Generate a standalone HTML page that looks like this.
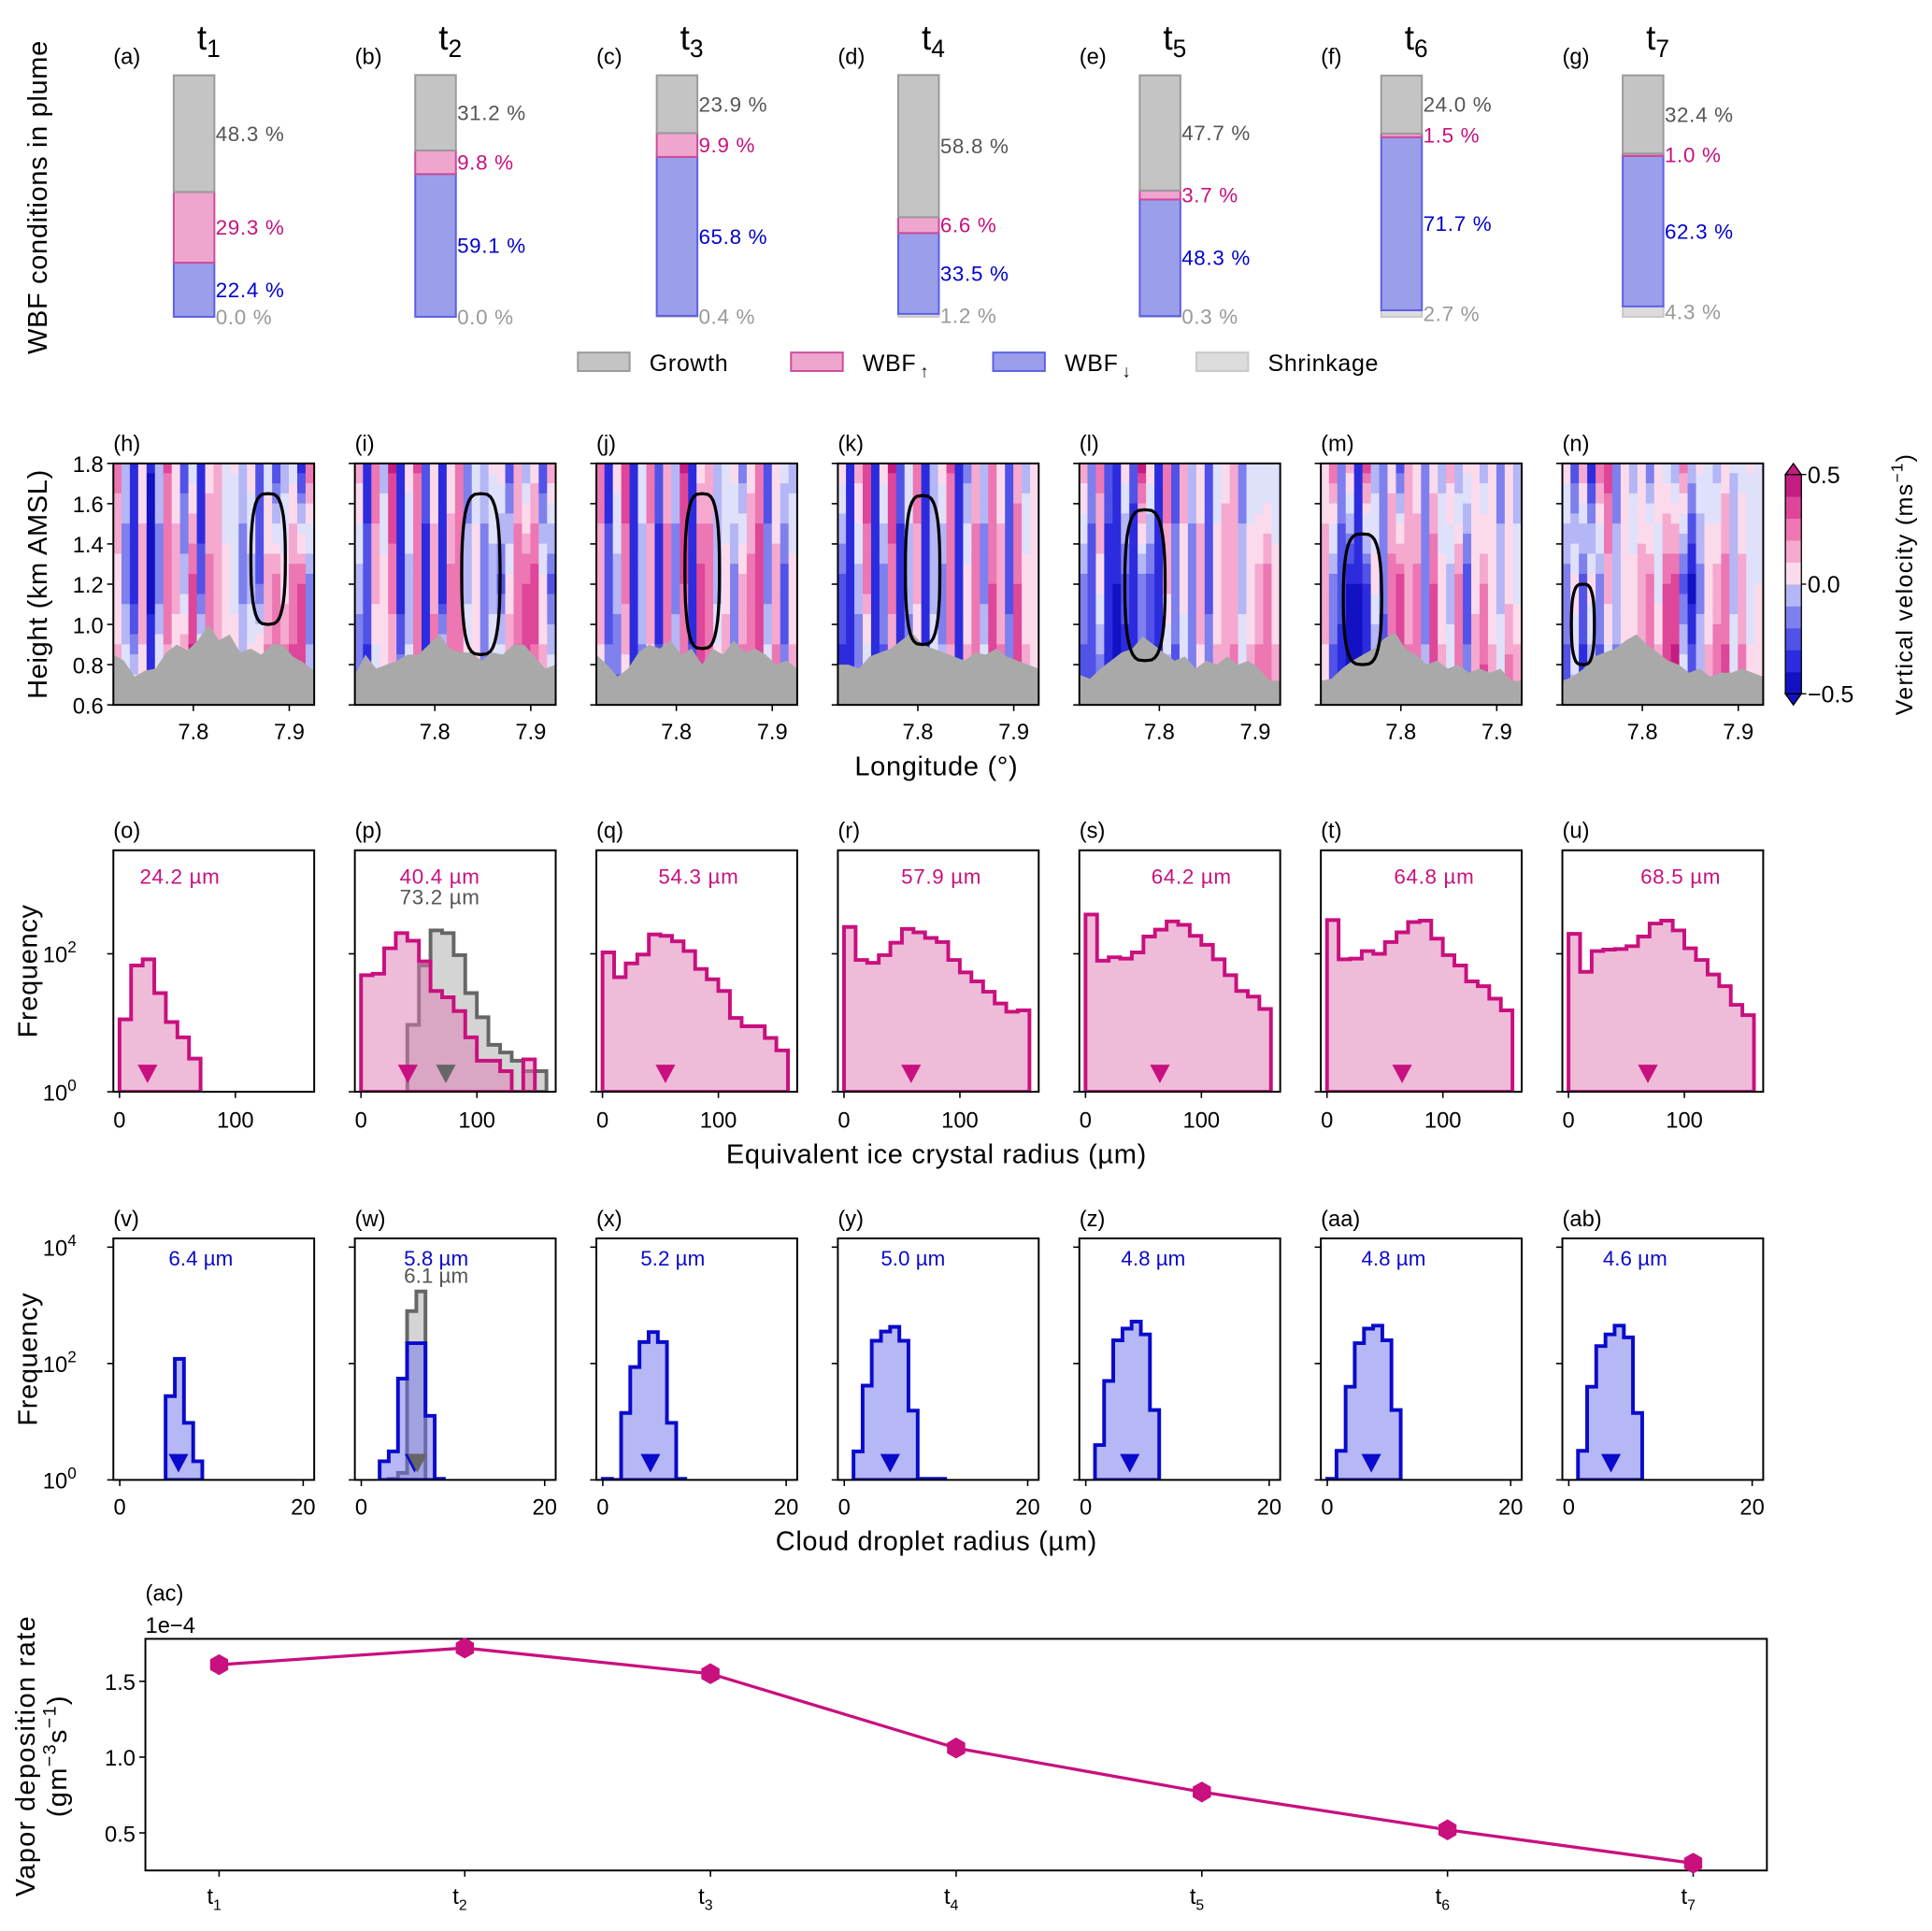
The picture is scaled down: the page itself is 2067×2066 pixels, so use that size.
<!DOCTYPE html>
<html><head><meta charset="utf-8"><title>WBF figure</title>
<style>
html,body{margin:0;padding:0;background:#fff;}
svg{display:block;font-family:"Liberation Sans","DejaVu Sans",sans-serif;}
</style></head>
<body>
<svg id="fig" width="2067" height="2066" viewBox="0 0 1568 1567" xmlns="http://www.w3.org/2000/svg"></svg>
<script>
// ---------------- DATA ----------------
const panelLabelsTop = ['(a)','(b)','(c)','(d)','(e)','(f)','(g)'];
const timeNames = ['1','2','3','4','5','6','7'];
const growthPct = [48.3,31.2,23.9,58.8,47.7,24.0,32.4];
const wbfUpPct = [29.3,9.8,9.9,6.6,3.7,1.5,1.0];
const wbfDownPct = [22.4,59.1,65.8,33.5,48.3,71.7,62.3];
const shrinkPct = [0.0,0.0,0.4,1.2,0.3,2.7,4.3];

const panelLabelsVel = ['(h)','(i)','(j)','(k)','(l)','(m)','(n)'];
const velTop = [
 [0.3,-0.1,-0.4,0.1,-0.45,-0.1,0.35,0.1,-0.3,0.0,-0.45,0.1,0.2,-0.05,0.05,-0.1,0.1,-0.3,0.0,-0.35,-0.1,0.0,-0.4,0.3],
 [0.2,-0.4,0.3,-0.1,0.45,-0.45,0.1,0.35,-0.3,0.1,-0.45,0.05,0.3,-0.2,0.0,-0.1,0.05,0.1,-0.3,0.2,-0.1,0.1,-0.35,0.2],
 [0.3,-0.4,0.1,0.4,-0.45,0.0,0.3,-0.3,0.2,-0.1,0.45,-0.45,0.1,0.2,-0.1,-0.05,0.1,-0.2,0.1,0.3,-0.3,0.05,0.0,-0.1],
 [0.1,-0.45,0.2,0.4,-0.4,0.1,0.45,-0.3,0.0,0.3,-0.45,-0.1,0.1,0.35,-0.4,-0.2,0.2,-0.1,0.3,0.1,-0.3,0.2,-0.1,0.05],
 [0.2,-0.2,0.3,-0.3,-0.4,0.1,-0.3,0.45,0.1,-0.4,0.3,-0.3,0.2,-0.1,0.1,-0.35,0.0,0.1,0.2,-0.2,0.0,-0.05,-0.05,-0.05],
 [0.1,0.3,-0.2,0.2,-0.45,0.35,-0.1,-0.2,0.1,-0.3,0.15,0.05,-0.2,0.1,-0.1,0.2,-0.15,0.05,0.1,-0.1,0.1,-0.2,0.05,-0.1],
 [0.1,-0.3,0.2,-0.4,0.3,0.4,-0.2,0.1,-0.1,0.05,-0.2,0.1,0.0,-0.1,0.3,-0.1,0.05,0.0,-0.1,0.1,-0.05,0.0,0.05,0.0]
];
const velMid = [
 [0.1,-0.2,-0.45,0.2,-0.5,-0.2,0.3,0.2,-0.1,0.4,-0.3,0.3,0.2,0.1,-0.05,-0.2,-0.1,-0.25,0.2,0.3,0.1,0.3,0.35,-0.2],
 [-0.1,-0.3,0.2,0.1,0.3,-0.45,-0.1,0.3,-0.4,0.2,-0.45,0.3,0.35,-0.1,0.1,-0.2,-0.1,-0.3,0.1,0.3,0.35,0.4,0.1,-0.3],
 [0.2,-0.3,-0.1,0.3,-0.45,-0.1,0.2,-0.4,0.3,-0.2,0.35,-0.4,0.4,0.3,-0.1,0.1,-0.2,0.2,0.3,0.4,-0.2,0.2,-0.3,0.1],
 [-0.3,-0.45,-0.1,0.3,-0.45,-0.2,0.3,-0.4,-0.1,0.2,-0.45,-0.1,-0.2,0.3,-0.45,0.1,0.3,-0.2,0.35,0.2,-0.3,0.35,0.1,0.05],
 [-0.2,-0.3,0.1,-0.4,-0.45,-0.3,-0.45,-0.2,-0.3,-0.35,0.2,-0.2,0.1,-0.2,0.2,-0.3,0.1,0.25,0.2,-0.1,0.1,0.2,0.3,0.1],
 [0.2,-0.2,-0.3,-0.45,-0.45,-0.35,0.1,-0.2,0.3,0.4,0.2,0.3,-0.2,0.35,0.1,-0.1,0.3,-0.3,0.1,0.25,0.1,-0.1,0.1,0.0],
 [-0.2,0.1,-0.3,0.1,-0.2,0.2,-0.1,0.1,0.1,0.2,0.3,0.0,0.35,0.4,-0.3,-0.5,-0.2,0.1,0.2,0.3,-0.1,0.2,0.0,0.05]
];
const velLow = [
 [0.2,0.1,0.05,0.1,-0.3,0.15,0.2,0.0,0.45,0.5,0.3,0.35,0.3,0.2,0.3,0.05,0.2,0.4,0.3,0.35,0.4,0.4,0.35,-0.1],
 [-0.3,-0.4,-0.1,0.1,0.1,-0.1,0.0,0.3,-0.45,0.4,0.3,0.35,0.3,0.2,0.1,-0.2,0.1,0.2,0.3,0.4,0.4,0.3,0.2,0.1],
 [0.1,-0.2,-0.3,0.05,-0.45,-0.2,0.1,-0.3,0.2,0.0,0.3,-0.3,0.4,0.3,0.2,0.3,-0.1,0.3,0.35,0.45,0.1,0.3,-0.2,0.2],
 [-0.4,-0.45,-0.3,-0.2,-0.45,-0.3,0.1,-0.4,-0.3,-0.1,-0.45,0.1,-0.1,0.2,-0.3,0.2,0.3,0.1,0.4,0.3,-0.1,0.4,0.2,0.1],
 [-0.3,-0.35,-0.3,-0.45,-0.5,-0.45,-0.45,-0.3,-0.4,-0.45,-0.2,-0.3,-0.1,-0.2,0.1,-0.1,0.2,0.1,0.3,0.1,0.2,0.3,0.35,0.2],
 [0.1,-0.3,-0.45,-0.5,-0.5,-0.45,-0.3,-0.4,0.3,0.45,0.3,0.35,-0.1,0.4,0.2,0.05,0.35,-0.2,0.3,0.4,0.2,0.1,0.35,0.3],
 [-0.3,-0.1,-0.4,-0.2,-0.3,-0.1,-0.2,0.0,0.1,0.2,0.35,0.3,0.45,0.5,0.1,-0.2,0.0,0.2,0.35,0.4,0.1,0.3,0.1,0.05]
];
const terrain = [
 [0.85,0.82,0.74,0.77,0.78,0.86,0.90,0.87,0.92,1.00,0.92,0.95,0.86,0.88,0.85,0.90,0.90,0.84,0.81,0.77],
 [0.75,0.85,0.78,0.80,0.82,0.85,0.85,0.90,0.95,0.88,0.86,0.86,0.82,0.86,0.85,0.90,0.90,0.84,0.78,0.80],
 [0.85,0.80,0.74,0.78,0.86,0.90,0.88,0.92,0.85,0.88,0.80,0.88,0.85,0.92,0.86,0.88,0.85,0.80,0.82,0.78],
 [0.80,0.80,0.78,0.84,0.86,0.88,0.92,0.96,0.90,0.88,0.86,0.84,0.82,0.86,0.85,0.88,0.84,0.82,0.80,0.78],
 [0.75,0.73,0.78,0.82,0.86,0.88,0.94,0.90,0.86,0.82,0.84,0.78,0.82,0.80,0.84,0.80,0.82,0.78,0.72,0.72],
 [0.72,0.73,0.78,0.82,0.85,0.88,0.93,0.96,0.88,0.85,0.80,0.82,0.78,0.80,0.76,0.78,0.76,0.78,0.72,0.72],
 [0.72,0.74,0.78,0.84,0.86,0.88,0.92,0.95,0.90,0.86,0.82,0.80,0.76,0.78,0.74,0.76,0.76,0.78,0.76,0.74]
];
const plumeLon = [7.878,7.848,7.827,7.805,7.785,7.76,7.738];
const plumeHalfWidth = [0.018,0.02,0.018,0.018,0.021,0.02,0.012];
const plumeTop = [1.65,1.65,1.65,1.64,1.57,1.45,1.2];
const plumeBottom = [1.0,0.85,0.88,0.9,0.82,0.8,0.8];

const panelLabelsIce = ['(o)','(p)','(q)','(r)','(s)','(t)','(u)'];
const iceMean = [24.2,40.4,54.3,57.9,64.2,64.8,68.5];
const iceMeanLabelX = [54,69,83,84,91,92,96];
const iceLog = [
 [1.05,1.83,1.92,1.43,1.01,0.79,0.48,null,null,null,null,null,null,null,null,null],
 [1.69,1.71,2.08,2.30,2.19,1.89,1.46,1.37,1.17,0.79,0.45,0.45,0.30,null,0.47,null],
 [2.02,1.66,1.86,1.99,2.28,2.26,2.18,2.04,1.78,1.63,1.46,1.07,0.95,0.95,0.78,0.60],
 [2.39,1.91,1.87,1.98,2.16,2.36,2.31,2.23,2.17,1.91,1.73,1.60,1.45,1.28,1.16,1.18],
 [2.57,1.90,1.95,1.93,2.02,2.25,2.35,2.47,2.42,2.26,2.13,1.92,1.69,1.46,1.38,1.20],
 [2.49,1.92,1.93,2.04,2.00,2.17,2.31,2.46,2.48,2.22,1.98,1.83,1.60,1.53,1.35,1.18],
 [2.29,1.74,2.04,2.06,2.07,2.11,2.25,2.44,2.48,2.34,2.08,1.91,1.70,1.53,1.26,1.11]
];
const iceRefLog = [null,null,null,null,0.97,1.83,2.34,2.30,1.98,1.43,1.08,0.68,0.57,0.45,0.30,0.30];
const iceRefMean = 73.2;

const panelLabelsDrop = ['(v)','(w)','(x)','(y)','(z)','(aa)','(ab)'];
const dropMean = [6.4,5.8,5.2,5.0,4.8,4.8,4.6];
const dropMeanLabelX = [71,66,62,61,60,59,59];
const dropLog = [
 [null,null,null,null,null,1.44,2.08,0.98,0.32,null,null,null],
 [null,null,0.32,0.49,1.74,2.35,2.35,1.10,0.02,null,null,null],
 [0.02,null,1.15,1.94,2.37,2.54,2.37,0.98,0.02,null,null,null],
 [null,0.49,1.62,2.39,2.55,2.63,2.39,1.19,0.02,0.02,0.02,null],
 [null,0.6,1.7,2.4,2.6,2.72,2.5,1.2,null,null,null,null],
 [0.02,0.5,1.6,2.35,2.6,2.65,2.4,1.2,null,null,null,null],
 [null,0.5,1.6,2.3,2.5,2.65,2.45,1.15,null,null,null,null]
];
const dropRefLog = [null,null,null,0.02,0.12,2.90,3.24,null,null,null,null,null];
const dropRefMean = 6.1;

const depTimes = ['1','2','3','4','5','6','7'];
const depRate = [1.61,1.72,1.55,1.06,0.77,0.52,0.30];
const depTicks = [0.5,1.0,1.5];

// ---------------- HELPERS ----------------
const NS='http://www.w3.org/2000/svg';
const svg=document.getElementById('fig');
function mk(tag,attrs,parent,text){const e=document.createElementNS(NS,tag);for(const k in attrs)e.setAttribute(k,attrs[k]);if(text!==undefined)e.textContent=text;(parent||svg).appendChild(e);return e;}
const PX=[92,288,484,680,876,1072,1268], PW=163;

// ---------------- ROW 1: stacked bars ----------------
const barTop=61, barBot=257, barH=barBot-barTop;
const ylab1=mk('text',{x:38,y:160,'font-size':22,'text-anchor':'middle',transform:'rotate(-90 38 160)','letter-spacing':'0.5'},svg,'WBF conditions in plume');


for(let i=0;i<7;i++){
  const bx=PX[i]+49, bw=33;
  const g=mk('g',{});
  
  
  const pl=mk('text',{x:PX[i],y:52,'font-size':18},g,panelLabelsTop[i]);
  
  
  const tt=mk('text',{x:PX[i]+68,y:40,'font-size':28},g);
  
  
  mk('tspan',{},tt,'t');mk('tspan',{dy:6,'font-size':20},tt,timeNames[i]);
  const segs=[[shrinkPct[i],'#dcdcdc','#c8c8c8','#999999'],[wbfDownPct[i],'#9b9ee9','#5c5fe6','#0000cc'],[wbfUpPct[i],'#eea6cf','#cc4c98','#c8107e'],[growthPct[i],'#c4c4c4','#9a9a9a','#555555']];
  const names=['shrinkage','wbf-down','wbf-up','growth'];
  let cum=0;
  segs.forEach((s,k)=>{
    const y1=barBot-cum*barH/100, y0=barBot-(cum+s[0])*barH/100;
    const r=mk('rect',{x:bx,y:y0,width:bw,height:Math.max(y1-y0,0),fill:s[1],stroke:s[2],'stroke-width':1.5},g);
    
    
    const t=mk('text',{x:bx+bw+1,y:(y0+y1)/2+6,'font-size':17,fill:s[3],'letter-spacing':'0.5'},g,s[0].toFixed(1)+' %');
    
    
    cum+=s[0];
  });
}
// legend
const legItems=[['Growth','#c4c4c4','#9a9a9a',469],['WBF','#eea6cf','#cc4c98',642,'↑'],['WBF','#9b9ee9','#5c5fe6',806,'↓'],['Shrinkage','#dcdcdc','#c8c8c8',971]];
const lg=mk('g',{});


legItems.forEach(it=>{
  const r=mk('rect',{x:it[3],y:286,width:42,height:15,fill:it[1],stroke:it[2],'stroke-width':1.5},lg);
  
  
  const t=mk('text',{x:it[3]+58,y:301,'font-size':19,'letter-spacing':'0.5'},lg,it[0]);
  
  
  if(it[4]) mk('tspan',{dy:5,'font-size':14,dx:3},t,it[4]);
});

// ---------------- ROW 2: velocity contours ----------------
const vTop=376,vBot=572;
const lonMin=7.7166,lonMax=7.926;
const lonX=(i,l)=>PX[i]+(l-lonMin)/(lonMax-lonMin)*PW;
const hY=h=>vBot-(h-0.6)/1.2*(vBot-vTop);
const velColors=['#1212c4','#2c2cde','#5152e8','#7e80ee','#b4b6f5','#dfe0fa','#fbdbeb','#f5a9cf','#ec77b3','#de4699','#c41c80'];
function velColor(v){let k=Math.floor((v+0.55)/0.1);k=Math.max(0,Math.min(10,k));return velColors[k];}
const defs=mk('defs',{});
const ylab2=mk('text',{x:38,y:474,'font-size':22,'text-anchor':'middle',transform:'rotate(-90 38 474)','letter-spacing':'0.5'},svg,'Height (km AMSL)');


const nRows=24;
for(let i=0;i<7;i++){
  const g=mk('g',{});
  
  
  const cp=mk('clipPath',{id:'vc'+i},defs);mk('rect',{x:PX[i],y:vTop,width:PW,height:vBot-vTop},cp);
  const cg=mk('g',{'clip-path':'url(#vc'+i+')'},g);
  const nc=velTop[i].length, cw=PW/nc, rh=(vBot-vTop)/nRows;
  for(let c=0;c<nc;c++){
    for(let r=0;r<nRows;r++){
      const f=r/(nRows-1);
      let v; if(f<0.5){v=velTop[i][c]+(velMid[i][c]-velTop[i][c])*f*2;} else {v=velMid[i][c]+(velLow[i][c]-velMid[i][c])*(f-0.5)*2;}
      const cell=mk('rect',{x:PX[i]+c*cw-0.2,y:vTop+r*rh-0.2,width:cw+0.4,height:rh+0.4,fill:velColor(v)},cg);
      
      
    }
  }
  const tr=terrain[i];let d='M'+PX[i]+','+vBot;
  tr.forEach((h,k)=>{d+=' L'+(PX[i]+k*PW/(tr.length-1)).toFixed(1)+','+hY(h).toFixed(1);});
  d+=' L'+(PX[i]+PW)+','+vBot+' Z';
  const tp=mk('path',{d:d,fill:'#a9a9a9'},cg);
  
  
  let pd='';const N=40;
  for(let k=0;k<=N;k++){const a=k/N*2*Math.PI;const cx=Math.cos(a),sy=Math.sin(a);
    const lon=plumeLon[i]+plumeHalfWidth[i]*Math.sign(cx)*Math.pow(Math.abs(cx),0.6);
    const h=(plumeTop[i]+plumeBottom[i])/2-(plumeTop[i]-plumeBottom[i])/2*Math.sign(sy)*Math.pow(Math.abs(sy),0.8);
    pd+=(k?' L':'M')+lonX(i,lon).toFixed(1)+','+hY(h).toFixed(1);}
  const pp=mk('path',{d:pd+' Z',fill:'none',stroke:'#000','stroke-width':2.5},cg);
  
  
  mk('rect',{x:PX[i],y:vTop,width:PW,height:vBot-vTop,fill:'none',stroke:'#000','stroke-width':1.5},g);
  const pl=mk('text',{x:PX[i],y:366,'font-size':18},g,panelLabelsVel[i]);
  
  
  [7.8,7.9].forEach(l=>{const x=lonX(i,l);mk('line',{x1:x,x2:x,y1:vBot,y2:vBot+5,stroke:'#000','stroke-width':1.2},g);
    const t=mk('text',{x:x,y:600,'font-size':18,'text-anchor':'middle'},g,l.toFixed(1));
    });
  [0.6,0.8,1.0,1.2,1.4,1.6,1.8].forEach(h=>{const y=hY(h);mk('line',{x1:PX[i]-5,x2:PX[i],y1:y,y2:y,stroke:'#000','stroke-width':1.2},g);
    if(i===0){const t=mk('text',{x:PX[i]-8,y:y+7,'font-size':18,'text-anchor':'end'},g,h.toFixed(1));
      }});
}
const xl2=mk('text',{x:760,y:629,'font-size':22,'text-anchor':'middle','letter-spacing':'0.5'},svg,'Longitude (°)');


const cb=mk('g',{});


const cbx=1449,cbw=13,cbTop=385,cbBot=563;
for(let k=0;k<10;k++){const y0=cbBot-(k+1)*(cbBot-cbTop)/10;
  mk('rect',{x:cbx,y:y0,width:cbw,height:(cbBot-cbTop)/10+0.3,fill:velColors[k<5?k:k+1]},cb);}
mk('polygon',{points:`${cbx},${cbTop} ${cbx+cbw/2},${376} ${cbx+cbw},${cbTop}`,fill:velColors[10],stroke:'#000','stroke-width':1},cb);
mk('polygon',{points:`${cbx},${cbBot} ${cbx+cbw/2},${572} ${cbx+cbw},${cbBot}`,fill:velColors[0],stroke:'#000','stroke-width':1},cb);
mk('rect',{x:cbx,y:cbTop,width:cbw,height:cbBot-cbTop,fill:'none',stroke:'#000','stroke-width':1},cb);
[[0.5,385],[0.0,474],[-0.5,563]].forEach(t=>{mk('line',{x1:cbx+cbw,x2:cbx+cbw+4,y1:t[1],y2:t[1],stroke:'#000'},cb);
  mk('text',{x:cbx+cbw+5,y:t[1]+7,'font-size':19},cb,(t[0]<0?'−':'')+Math.abs(t[0]).toFixed(1));});
const cbl=mk('text',{x:1552,y:474,'font-size':19,'text-anchor':'middle',transform:'rotate(-90 1552 474)','letter-spacing':'1'},cb);
mk('tspan',{},cbl,'Vertical velocity (ms');mk('tspan',{dy:-8,'font-size':13},cbl,'−1');mk('tspan',{dy:8},cbl,')');

// ---------------- Histogram helper ----------------
function histPath(vals,xf,yf,bw,bottom){
  let last=vals.length-1; while(last>0 && vals[last]===null) last--;
  let first=0; while(first<last && vals[first]===null) first++;
  let d='M'+xf(first*bw).toFixed(1)+','+bottom;
  for(let k=first;k<=last;k++){const v=vals[k];const y=(v===null)?bottom:yf(v);d+=' L'+xf(k*bw).toFixed(1)+','+y.toFixed(1)+' L'+xf((k+1)*bw).toFixed(1)+','+y.toFixed(1);}
  d+=' L'+xf((last+1)*bw).toFixed(1)+','+bottom+' Z';return d;}
function tri(g,x,y,col){const p=mk('polygon',{points:`${x-8},${y-9} ${x+8},${y-9} ${x},${y+6}`,fill:col},g);
  }

// ---------------- ROW 3: ice histograms ----------------
const iTop=690,iBot=886,iDec=3.5;
const iy=v=>iBot-v/iDec*(iBot-iTop);
for(let i=0;i<7;i++){
  const g=mk('g',{});
  
  
  const xf=r=>PX[i]+(r+5.3)/(173.3)*PW;
  const cp=mk('clipPath',{id:'ic'+i},defs);mk('rect',{x:PX[i],y:iTop,width:PW,height:iBot-iTop},cp);
  const cg=mk('g',{'clip-path':'url(#ic'+i+')'},g);
  if(i===1){const rp=mk('path',{d:histPath(iceRefLog,xf,iy,10,iBot),fill:'rgba(170,170,170,0.5)',stroke:'#666','stroke-width':3},cg);
    }
  const hp=mk('path',{d:histPath(iceLog[i],xf,iy,10,iBot),fill:'rgba(222,120,180,0.5)',stroke:'#c8107e','stroke-width':3},cg);
  
  
  tri(g,xf(iceMean[i]),iBot-13,'#c8107e');
  if(i===1) tri(g,xf(iceRefMean),iBot-13,'#666');
  mk('rect',{x:PX[i],y:iTop,width:PW,height:iBot-iTop,fill:'none',stroke:'#000','stroke-width':1.5},g);
  const pl=mk('text',{x:PX[i],y:680,'font-size':18},g,panelLabelsIce[i]);
  
  const ml=mk('text',{x:PX[i]+iceMeanLabelX[i],y:717,'font-size':17,fill:'#c8107e','text-anchor':'middle','letter-spacing':'0.5'},g,iceMean[i].toFixed(1)+' µm');
  
  if(i===1){const m2=mk('text',{x:PX[i]+iceMeanLabelX[i],y:734,'font-size':17,fill:'#555','text-anchor':'middle','letter-spacing':'0.5'},g,iceRefMean.toFixed(1)+' µm');
    }
  [0,100].forEach(v=>{const x=xf(v);mk('line',{x1:x,x2:x,y1:iBot,y2:iBot+5,stroke:'#000','stroke-width':1.2},g);
    const t=mk('text',{x:x,y:915,'font-size':18,'text-anchor':'middle'},g,String(v));
    });
  [0,2].forEach(e=>{const y=iy(e);mk('line',{x1:PX[i]-5,x2:PX[i],y1:y,y2:y,stroke:'#000','stroke-width':1.2},g);
    if(i===0){const t=mk('text',{x:PX[i]-30,y:y+7,'font-size':18,'text-anchor':'end'},g,'10');mk('tspan',{dy:-8,'font-size':13},t,String(e));
      }});
}
const yl3=mk('text',{x:30,y:788,'font-size':22,'text-anchor':'middle',transform:'rotate(-90 30 788)','letter-spacing':'0.5'},svg,'Frequency');

const xl3=mk('text',{x:760,y:944,'font-size':22,'text-anchor':'middle','letter-spacing':'0.5'},svg,'Equivalent ice crystal radius (µm)');


// ---------------- ROW 4: droplet histograms ----------------
const dTop=1005,dBot=1201,dDec=4.15;
const dy=v=>dBot-v/dDec*(dBot-dTop);
for(let i=0;i<7;i++){
  const g=mk('g',{});
  
  
  const xf=r=>PX[i]+(r+0.7)/(21.9)*PW;
  const cp=mk('clipPath',{id:'dc'+i},defs);mk('rect',{x:PX[i],y:dTop,width:PW,height:dBot-dTop},cp);
  const cg=mk('g',{'clip-path':'url(#dc'+i+')'},g);
  if(i===1){const rp=mk('path',{d:histPath(dropRefLog,xf,dy,1,dBot),fill:'rgba(170,170,170,0.5)',stroke:'#666','stroke-width':3},cg);
    }
  const hp=mk('path',{d:histPath(dropLog[i],xf,dy,1,dBot),fill:'rgba(110,112,235,0.5)',stroke:'#0a0acc','stroke-width':3},cg);
  
  
  tri(g,xf(dropMean[i]),dBot-12,'#0a0acc');
  if(i===1) tri(g,xf(dropRefMean),dBot-12,'#666');
  mk('rect',{x:PX[i],y:dTop,width:PW,height:dBot-dTop,fill:'none',stroke:'#000','stroke-width':1.5},g);
  const pl=mk('text',{x:PX[i],y:995,'font-size':18},g,panelLabelsDrop[i]);
  
  const ml=mk('text',{x:PX[i]+dropMeanLabelX[i],y:1027,'font-size':17,fill:'#0a0acc','text-anchor':'middle'},g,dropMean[i].toFixed(1)+' µm');
  
  if(i===1){const m2=mk('text',{x:PX[i]+dropMeanLabelX[i],y:1041,'font-size':17,fill:'#555','text-anchor':'middle'},g,dropRefMean.toFixed(1)+' µm');
    }
  [0,20].forEach(v=>{const x=xf(v);mk('line',{x1:x,x2:x,y1:dBot,y2:dBot+5,stroke:'#000','stroke-width':1.2},g);
    const t=mk('text',{x:x,y:1229,'font-size':18,'text-anchor':'middle'},g,String(v));
    });
  [0,2,4].forEach(e=>{const y=dy(e);mk('line',{x1:PX[i]-5,x2:PX[i],y1:y,y2:y,stroke:'#000','stroke-width':1.2},g);
    if(i===0){const t=mk('text',{x:PX[i]-30,y:y+7,'font-size':18,'text-anchor':'end'},g,'10');mk('tspan',{dy:-8,'font-size':13},t,String(e));
      }});
}
const yl4=mk('text',{x:30,y:1103,'font-size':22,'text-anchor':'middle',transform:'rotate(-90 30 1103)','letter-spacing':'0.5'},svg,'Frequency');

const xl4=mk('text',{x:760,y:1258,'font-size':22,'text-anchor':'middle','letter-spacing':'0.5'},svg,'Cloud droplet radius (µm)');


// ---------------- ROW 5: deposition line chart ----------------
const lx0=118,lx1=1434,ly0=1330,ly1=1518;
const lxf=k=>lx0+(k+0.3)/6.6*(lx1-lx0);
const lyf=v=>1426-(v-1.0)*123;
const lg5=mk('g',{});


mk('rect',{x:lx0,y:ly0,width:lx1-lx0,height:ly1-ly0,fill:'none',stroke:'#000','stroke-width':1.5},lg5);
const pl5=mk('text',{x:118,y:1299,'font-size':18},lg5,'(ac)');

const ex=mk('text',{x:118,y:1325,'font-size':18},lg5,'1e−4');

depTicks.forEach(v=>{const y=lyf(v);mk('line',{x1:lx0-5,x2:lx0,y1:y,y2:y,stroke:'#000','stroke-width':1.2},lg5);
  const t=mk('text',{x:lx0-8,y:y+7,'font-size':18,'text-anchor':'end'},lg5,v.toFixed(1));
  });
depTimes.forEach((n,k)=>{const x=lxf(k);mk('line',{x1:x,x2:x,y1:ly1,y2:ly1+5,stroke:'#000','stroke-width':1.2},lg5);
  const t=mk('text',{x:x-4,y:1545,'font-size':18,'text-anchor':'middle'},lg5,'t');mk('tspan',{dy:5,'font-size':12},t,n);
  });
const line=mk('polyline',{points:depRate.map((v,k)=>lxf(k).toFixed(1)+','+lyf(v).toFixed(1)).join(' '),fill:'none',stroke:'#c8107e','stroke-width':2.5},lg5);


depRate.forEach((v,k)=>{const cx=lxf(k),cy=lyf(v),r=8.5;let pts='';
  for(let a=0;a<6;a++){const th=Math.PI/2+a*Math.PI/3;pts+=(cx+r*Math.cos(th)).toFixed(1)+','+(cy+r*Math.sin(th)).toFixed(1)+' ';}
  const h=mk('polygon',{points:pts,fill:'#c8107e'},lg5);
  
  });
const yl5=mk('text',{x:0,y:0,'font-size':22,'text-anchor':'middle',transform:'translate(28 1425) rotate(-90)','letter-spacing':'1'},svg,'Vapor deposition rate');

const yl5b=mk('text',{x:0,y:0,'font-size':22,'text-anchor':'middle',transform:'translate(54 1425) rotate(-90)','letter-spacing':'1'},svg);
mk('tspan',{},yl5b,'(gm');mk('tspan',{dy:-9,'font-size':15},yl5b,'−3');mk('tspan',{dy:9},yl5b,'s');mk('tspan',{dy:-9,'font-size':15},yl5b,'−1');mk('tspan',{dy:9},yl5b,')');

</script>
</body></html>
